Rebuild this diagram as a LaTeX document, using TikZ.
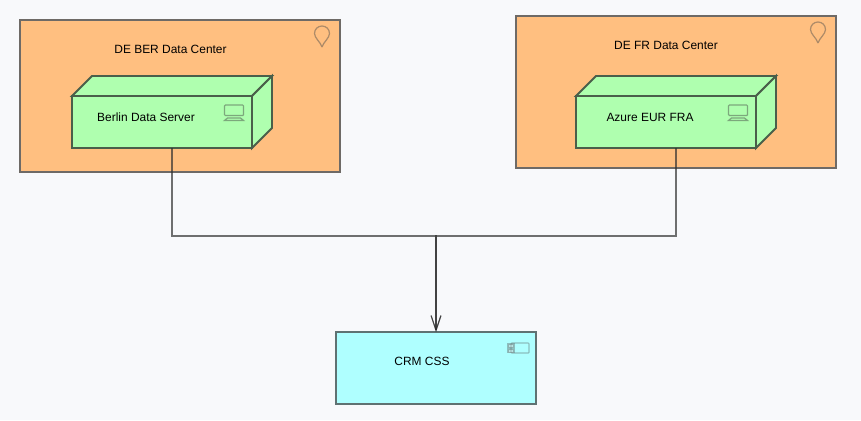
\documentclass[tikz,border=0pt]{standalone}
\usepackage{fontspec}
\setmainfont{Liberation Sans}
\usetikzlibrary{arrows.meta}
\definecolor{pagebg}{HTML}{F8F9FB}
\definecolor{sitefill}{HTML}{FFBF80}
\definecolor{sitedraw}{HTML}{6E6A66}
\definecolor{cubefill}{HTML}{AFFFAF}
\definecolor{cubedraw}{HTML}{4A5F4A}
\definecolor{compfill}{HTML}{AFFFFF}
\definecolor{compdraw}{HTML}{5F7272}
\definecolor{conndraw}{HTML}{2E2E2E}
\tikzset{
  sitebox/.style={draw=sitedraw,fill=sitefill,line width=1.1pt,outer sep=0pt,
    minimum width=6.4cm,minimum height=3.04cm},
  compbox/.style={draw=compdraw,fill=compfill,line width=1.1pt,outer sep=0pt,
    minimum width=4cm,minimum height=1.44cm},
  cubeframe/.style={outer sep=0pt,inner sep=0pt,minimum width=4cm,minimum height=1.44cm},
  cubeline/.style={draw=cubedraw,fill=cubefill,line width=1.1pt,line join=miter},
  boxtext/.style={inner sep=0pt,font=\fontsize{6.8}{8}\selectfont},
  iconline/.style={line width=0.7pt,opacity=0.45},
  conn/.style={draw=conndraw,line width=0.62pt,opacity=0.68,
    -{Straight Barb[length=8.4pt,width=5.6pt,line width=0.6pt]}},
  pics/pinicon/.style={code={
    \draw[iconline,draw=black!70] (0,21) .. controls (-1.5,16) and (-7.5,12) .. (-7.5,7.5)
      .. controls (-7.5,3) and (-4,0) .. (0,0) .. controls (4,0) and (7.5,3) .. (7.5,7.5)
      .. controls (7.5,12) and (1.5,16) .. (0,21);
  }},
  pics/laptopicon/.style={code={
    \draw[iconline,draw=black!75,rounded corners=0.5pt] (0,0) rectangle (19,10.5);
    \draw[iconline,draw=black!75] (3,13) -- (16,13) -- (19,15.5) -- (0,15.5) -- cycle;
  }},
  pics/cubebody/.style={code={
    \draw[cubeline] (0,20) -- (20,0) -- (200,0) -- (180,20) -- cycle;
    \draw[cubeline] (180,20) -- (200,0) -- (200,52) -- (180,72) -- cycle;
    \draw[cubeline] (0,20) rectangle (180,72);
  }},
}
\begin{document}
\begin{tikzpicture}[x=0.02cm,y=-0.02cm]
\fill[pagebg] (0,0) rectangle (861,420);
\useasboundingbox (0,0) rectangle (861,420);

\node[sitebox] (berdc) at (180,96) {};
\node[sitebox] (frdc) at (676,92) {};
\node[boxtext] (bertext) at (170.5,49) {DE BER Data Center};
\node[boxtext] (frtext) at (666,45) {DE FR Data Center};
\draw (322,26) pic {pinicon};
\draw (818,22) pic {pinicon};

\draw (72,76) pic {cubebody};
\node[cubeframe] (berlin) at (172,112) {};
\node[boxtext] (berlintext) at (146,117) {Berlin Data Server};
\draw (224.5,105) pic {laptopicon};

\draw (576,76) pic {cubebody};
\node[cubeframe] (azure) at (676,112) {};
\node[boxtext] (azuretext) at (650,117) {Azure EUR FRA};
\draw (728.5,105) pic {laptopicon};

\node[compbox] (crm) at (436,368) {};
\node[boxtext] (crmtext) at (422,361) {CRM CSS};
\draw[iconline,draw=compdraw,rounded corners=0.5pt] (511,343) rectangle (529,353);
\draw[iconline,draw=compdraw,fill=compdraw!40] (508,344) rectangle (514,347.5);
\draw[iconline,draw=compdraw,fill=compdraw!40] (508,349) rectangle (514,352.5);

\coordinate (busjoin) at (436,236);
\draw[conn] (berlin.south) |- (busjoin) -- (crm.north);
\draw[conn] (azure.south) |- (busjoin) -- (crm.north);
\end{tikzpicture}
\end{document}
